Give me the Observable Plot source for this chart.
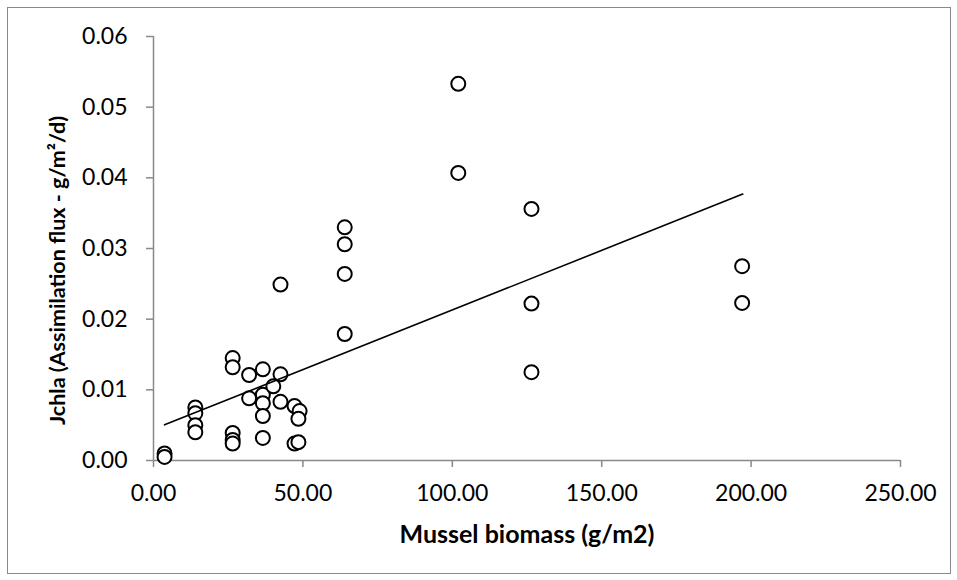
<!DOCTYPE html>
<html><head><meta charset="utf-8">
<script src="https://cdn.jsdelivr.net/npm/d3@7"></script>
<script src="https://cdn.jsdelivr.net/npm/@observablehq/plot@0.6"></script>
<style>
body{margin:0;background:#fff;}
#wrap{position:relative;width:957px;height:580px;}
#border{position:absolute;left:7px;top:7px;width:942px;height:565px;border:1.5px solid #898989;pointer-events:none;}
</style></head><body><div id="wrap"><div id="border"></div></div>
<script>
const biomass = [102, 102, 126.5, 126.5, 126.5, 64, 64, 64, 64, 197, 197, 42.5, 42.5, 42.5,
  26.5, 26.5, 26.5, 26.5, 26.5, 32, 32, 36.6, 36.6, 36.6, 36.6, 36.6, 40.1, 47.2, 47.2,
  48.9, 48.5, 48.5, 14, 14, 14, 14, 3.7, 3.7];
const flux = [0.0533, 0.0407, 0.0356, 0.0222, 0.0125, 0.0330, 0.0306, 0.0264, 0.0179, 0.0275, 0.0223,
  0.0249, 0.0122, 0.0083, 0.0145, 0.0132, 0.0039, 0.0029, 0.0024, 0.0121, 0.0088, 0.0129, 0.0093,
  0.0081, 0.0063, 0.0032, 0.0105, 0.0077, 0.0024, 0.0070, 0.0059, 0.0026, 0.0075, 0.0067, 0.0050,
  0.0040, 0.0010, 0.0005];
const trendX = [3.7, 197.2];
const trendY = [0.00505, 0.0377];
const xTicks = [0, 50, 100, 150, 200, 250];
const yTicks = [0, 0.01, 0.02, 0.03, 0.04, 0.05, 0.06];
const xTitle = "Mussel biomass (g/m2)";
const yTitle = "Jchla (Assimilation flux - g/m²/d)";

const points = biomass.map((b, i) => ({x: b, y: flux[i]}));
const trend = trendX.map((t, i) => ({x: t, y: trendY[i]}));
const axisGray = "#898989";

const chart = Plot.plot({
  width: 957, height: 580,
  marginLeft: 153, marginRight: 57, marginTop: 36, marginBottom: 120,
  style: {fontFamily: "Lato, sans-serif", fontSize: "23px", color: "black", background: "transparent", overflow: "visible"},
  x: {domain: [0, 250]},
  y: {domain: [0, 0.06]},
  marks: [
    Plot.ruleX([0], {stroke: axisGray, strokeWidth: 1.5}),
    Plot.ruleY([0], {stroke: axisGray, strokeWidth: 1.5}),
    Plot.axisX(xTicks, {tickSize: 7, tickPadding: 17, stroke: axisGray, strokeWidth: 1.5, fill: "black", tickFormat: d3.format(".2f"), label: null}),
    Plot.axisY(yTicks, {tickSize: 7, tickPadding: 19, stroke: axisGray, strokeWidth: 1.5, fill: "black", tickFormat: d3.format(".2f"), label: null}),
    Plot.dot(points, {x: "x", y: "y", r: 7, stroke: "black", strokeWidth: 2, fill: "white"}),
    Plot.line(trend, {x: "x", y: "y", stroke: "black", strokeWidth: 1.6}),
    Plot.text([xTitle], {text: d => d, frameAnchor: "bottom", dx: 0, dy: 74, lineAnchor: "middle", textAnchor: "middle", fontWeight: "bold", fontSize: 25}),
    Plot.text([yTitle], {text: d => d, frameAnchor: "left", rotate: -90, dx: -95, dy: 22, lineAnchor: "middle", textAnchor: "middle", fontWeight: "bold", fontSize: 21.5})
  ]
});
document.getElementById("wrap").appendChild(chart);
</script>
</body></html>
